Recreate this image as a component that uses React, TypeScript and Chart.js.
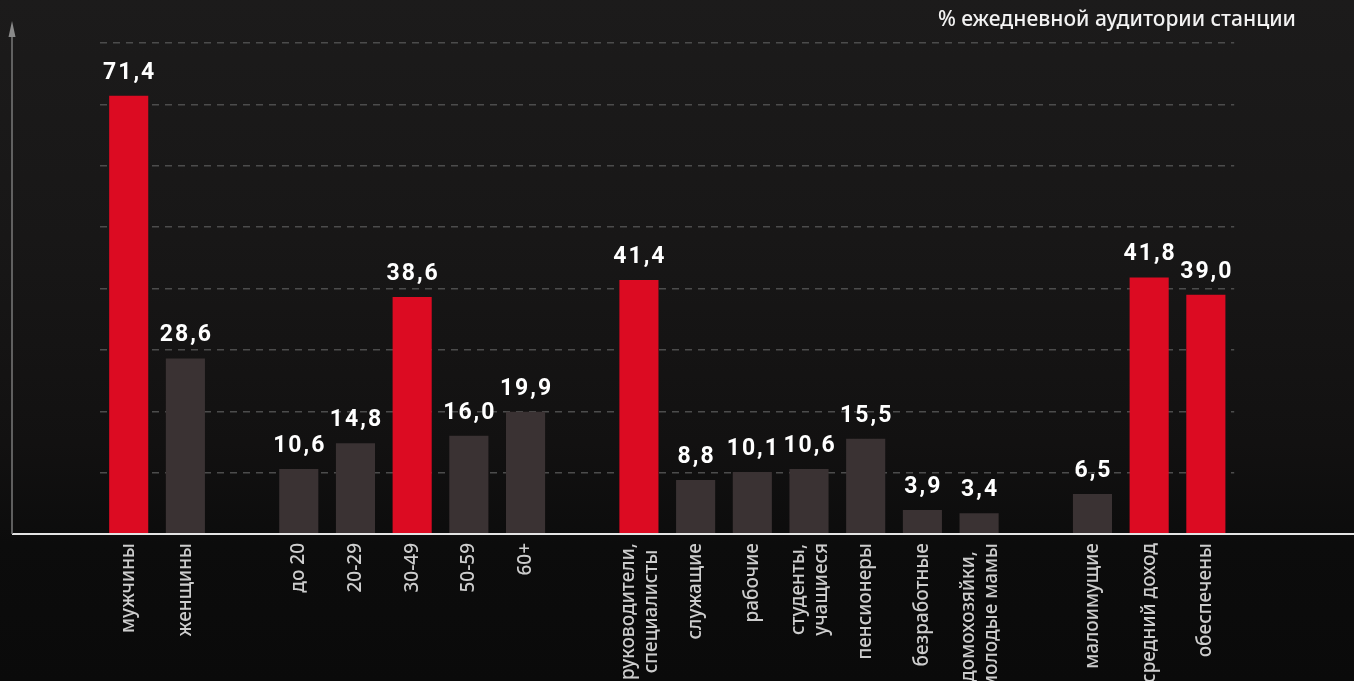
import React, { useEffect, useRef } from "react";
import { Chart, registerables } from "chart.js";

Chart.register(...registerables);

// ---- data ----
const categories: (string | string[])[] = [
  "мужчины",
  "женщины",
  "",
  "до 20",
  "20-29",
  "30-49",
  "50-59",
  "60+",
  "",
  ["руководители,", "специалисты"],
  "служащие",
  "рабочие",
  ["студенты,", "учащиеся"],
  "пенсионеры",
  "безработные",
  ["домохозяйки,", "молодые мамы"],
  "",
  "малоимущие",
  "средний доход",
  "обеспечены",
];

const values: (number | null)[] = [
  71.4, 28.6, null, 10.6, 14.8, 38.6, 16.0, 19.9, null, 41.4, 8.8, 10.1, 10.6, 15.5, 3.9, 3.4, null, 6.5, 41.8, 39.0,
];

const highlighted: boolean[] = [
  true, false, false, false, false, true, false, false, false, true, false, false, false, false, false, false, false, false, true, true,
];

const yMin = 0;
const yMax = 80;
const yStep = 10;

const titleText = "% ежедневной аудитории станции";

const RED = "#dc0b22";
const GRAY = "#3a3233";

const fmt = (v: number) => v.toFixed(1).replace(".", ",");

const decorPlugin = {
  id: "decor",
  afterDraw(chart: any) {
    const ctx: CanvasRenderingContext2D = chart.ctx;
    const xs = chart.scales.x;
    const ys = chart.scales.y;
    const baseY = ys.getPixelForValue(0);

    // value labels
    ctx.save();
    ctx.font = 'bold 23px Roboto';
    ctx.fillStyle = "#ffffff";
    ctx.textAlign = "center";
    ctx.textBaseline = "alphabetic";
    (ctx as any).letterSpacing = "2px";
    values.forEach((v, i) => {
      if (v == null) return;
      const px = xs.getPixelForValue(i);
      const py = ys.getPixelForValue(v);
      ctx.fillText(fmt(v), px + 1, py - 17);
    });
    ctx.restore();

    // x axis line
    ctx.save();
    ctx.strokeStyle = "#e4e4e4";
    ctx.lineWidth = 2;
    ctx.beginPath();
    ctx.moveTo(12, baseY);
    ctx.lineTo(chart.width, baseY);
    ctx.stroke();

    // y axis line with arrow
    ctx.strokeStyle = "#7a7a7a";
    ctx.lineWidth = 1.5;
    ctx.beginPath();
    ctx.moveTo(12, baseY);
    ctx.lineTo(12, 35);
    ctx.stroke();
    ctx.fillStyle = "#8a8a8a";
    ctx.beginPath();
    ctx.moveTo(12, 21);
    ctx.lineTo(8.5, 37);
    ctx.lineTo(15.5, 37);
    ctx.closePath();
    ctx.fill();
    ctx.restore();

    // x category labels (rotated)
    ctx.save();
    ctx.font = '500 19px "Noto Sans"';
    ctx.fillStyle = "#cdcdcd";
    ctx.textAlign = "center";
    ctx.textBaseline = "middle";
    const lh = 22.5;
    categories.forEach((c, i) => {
      const lines = Array.isArray(c) ? c : [c];
      if (!lines.length || lines[0] === "") return;
      const px = xs.getPixelForValue(i);
      const maxW = Math.max(...lines.map((l) => ctx.measureText(l).width));
      const cy = baseY + 9 + maxW / 2;
      lines.forEach((l, j) => {
        const off = (j - (lines.length - 1) / 2) * lh + (lines.length > 1 ? 1 : 0);
        ctx.save();
        ctx.translate(px + off, cy);
        ctx.rotate(-Math.PI / 2);
        ctx.fillText(l, 0, 0);
        ctx.restore();
      });
    });
    ctx.restore();

    // title
    ctx.save();
    ctx.font = '500 21px "Noto Sans"';
    ctx.fillStyle = "#f2f2f2";
    ctx.textAlign = "right";
    ctx.textBaseline = "alphabetic";
    ctx.fillText(titleText, 1296, 26);
    ctx.restore();
  },
};

export default function App() {
  const canvasRef = useRef<HTMLCanvasElement | null>(null);

  useEffect(() => {
    if (!canvasRef.current) return;
    const chart = new Chart(canvasRef.current, {
      type: "bar",
      data: {
        labels: categories as any,
        datasets: [
          {
            data: values as any,
            backgroundColor: highlighted.map((h) => (h ? RED : GRAY)),
            barPercentage: 0.69,
            categoryPercentage: 1,
            borderWidth: 0,
          },
        ],
      },
      options: {
        responsive: false,
        animation: false,
        devicePixelRatio: 1,
        layout: { padding: { left: 100.35, right: 119.8, top: 43, bottom: 0 } },
        plugins: {
          legend: { display: false },
          tooltip: { enabled: false },
          title: { display: false },
        },
        scales: {
          x: {
            grid: { display: false, drawTicks: false },
            border: { display: false },
            ticks: { display: false },
            afterFit: (s: any) => {
              s.height = 147;
            },
          },
          y: {
            min: yMin,
            max: yMax,
            ticks: { display: false, stepSize: yStep },
            grid: { color: "#4c4c4c", lineWidth: 1.5, drawTicks: false },
            border: { display: false, dash: [7, 6] },
            afterFit: (s: any) => {
              s.width = 0;
            },
          },
        },
      },
      plugins: [decorPlugin],
    });
    return () => chart.destroy();
  }, []);

  return (
    <div
      style={{
        position: "fixed",
        left: 0,
        top: 0,
        width: 1354,
        height: 681,
        background:
          "linear-gradient(180deg, #1c1b1b 0%, #181717 35%, #121111 65%, #0c0c0c 80%, #0a0a0a 100%)",
        overflow: "hidden",
      }}
    >
      <canvas ref={canvasRef} width={1354} height={681} style={{ display: "block" }} />
    </div>
  );
}
